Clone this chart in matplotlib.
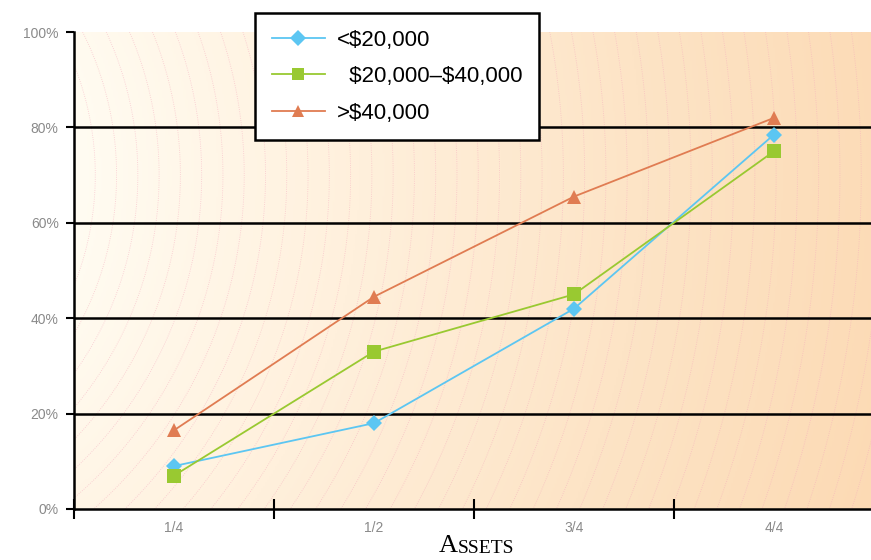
import numpy as np
import matplotlib
matplotlib.use("Agg")
import matplotlib.pyplot as plt
from matplotlib.colors import LinearSegmentedColormap

categories = ["1/4", "1/2", "3/4", "4/4"]
series_names = ["<\\$20,000", "  \\$20,000–\\$40,000", ">\\$40,000"]
low_income = [9, 18, 42, 78.5]
mid_income = [7, 33, 45, 75]
high_income = [16.5, 44.5, 65.5, 82]
y_ticks = [0, 20, 40, 60, 80, 100]
y_tick_labels = ["0%", "20%", "40%", "60%", "80%", "100%"]

colors = ["#5cc6f2", "#99c931", "#e07c52"]
markers = ["D", "s", "^"]

fig = plt.figure(figsize=(8.71, 5.6), dpi=100)
fig.patch.set_facecolor("white")
ax = fig.add_axes([74 / 871, 51 / 560, 800 / 871, 477 / 560])

# background radial gradient
nx, ny = 400, 240
xs = np.linspace(0, 1, nx)
ys = np.linspace(0, 1, ny)
X, Y = np.meshgrid(xs, ys)
R = np.sqrt((X + 0.35) ** 2 + ((Y - 0.7) * 0.6) ** 2)
R = (R - R.min()) / (R.max() - R.min())
cmap = LinearSegmentedColormap.from_list("bg", ["#fffcf2", "#fff0dc", "#fde4c6", "#fcdab4"])
ax.imshow(R, cmap=cmap, extent=[-0.5, 3.5, 0, 100], origin="lower",
          aspect="auto", zorder=0, interpolation="bilinear")
ax.contour(np.linspace(-0.5, 3.5, nx), np.linspace(0, 100, ny), R, levels=40,
           colors="#f5a8bc", linewidths=0.6, linestyles=":", alpha=0.6, zorder=0.5)

x = np.arange(len(categories))
for vals, name, c, m in zip([low_income, mid_income, high_income], series_names, colors, markers):
    ms = {"D": 8, "s": 10, "^": 10}[m]
    ax.plot(x, vals, color=c, marker=m, markersize=ms, linewidth=1.3,
            label=name, zorder=3, markeredgewidth=0)

ax.set_xlim(-0.5, 3.5)
ax.set_ylim(0, 100)
for v in [20, 40, 60, 80]:
    ax.axhline(v, color="black", linewidth=1.8, zorder=2)

ax.set_yticks(y_ticks)
ax.set_yticklabels(y_tick_labels, color="#8a8a8a", fontsize=10, family="Liberation Sans")
ax.tick_params(axis="y", direction="out", length=6, width=1.5, color="black", pad=5)

ax.set_xticks([-0.5, 0.5, 1.5, 2.5, 3.5])
ax.set_xticklabels([])
ax.set_xticks(x, minor=True)
ax.set_xticklabels(categories, minor=True, color="#8a8a8a", fontsize=10, family="Liberation Sans")
ax.tick_params(axis="x", which="major", direction="inout", length=14, width=1.5, color="black")
ax.tick_params(axis="x", which="minor", length=0, pad=9)

for s in ["top", "right"]:
    ax.spines[s].set_visible(False)
for s in ["left", "bottom"]:
    ax.spines[s].set_linewidth(1.8)
    ax.spines[s].set_color("black")

fig.text(439 / 871, 3 / 560, "A", fontsize=19, family="Liberation Serif", ha="left", va="bottom")
fig.text(458 / 871, 3 / 560, "SSETS", fontsize=14, family="Liberation Serif", ha="left", va="bottom")

leg = ax.legend(loc="upper left", bbox_to_anchor=(255 / 871, 1 - 13 / 560), bbox_transform=fig.transFigure,
                prop={"family": "Liberation Sans", "size": 16}, frameon=True, fancybox=False,
                handlelength=2.4, borderpad=0.75, labelspacing=0.7, handletextpad=0.55,
                borderaxespad=0)
leg.get_frame().set_edgecolor("black")
leg.get_frame().set_linewidth(1.8)
leg.get_frame().set_facecolor("white")
leg.get_frame().set_alpha(1)
leg.set_zorder(10)
for line in leg.get_lines():
    line.set_markersize(8)

fig.savefig("out.png", dpi=100)
